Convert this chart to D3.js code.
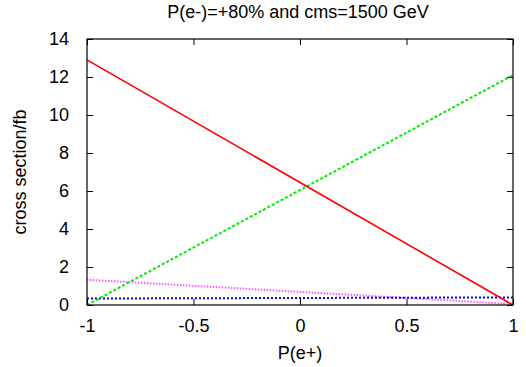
<!DOCTYPE html>
<html>
<head>
<meta charset="utf-8">
<script src="https://cdn.jsdelivr.net/npm/d3@7"></script>
<style>
  body { margin: 0; background: #fff; }
  svg { font-family: "Liberation Sans", Arial, sans-serif; }
</style>
</head>
<body>
<div id="chart"></div>
<script>
// P(e+) values at which each curve is read
const polPositron = [-1, 1];
const redSeries = [12.9, 0.0];
const greenSeries = [0.0, 12.1];
const magentaSeries = [1.33, 0.05];
const blueSeries = [0.34, 0.4];
const xTicks = [-1, -0.5, 0, 0.5, 1];
const yTicks = [0, 2, 4, 6, 8, 10, 12, 14];

const width = 526, height = 367;
const margin = { top: 39, right: 13, bottom: 62, left: 87 };
const fontSize = 18;

const svg = d3.select("#chart")
  .append("svg")
  .attr("width", width)
  .attr("height", height);

const x = d3.scaleLinear().domain([-1, 1]).range([margin.left, width - margin.right]);
const y = d3.scaleLinear().domain([0, 14]).range([height - margin.bottom, margin.top]);

// plain hyphen for negatives, like gnuplot
const fmt = d => String(d);

// bottom axis, ticks pointing inward
svg.append("g")
  .attr("transform", `translate(0,${y(0)})`)
  .call(d3.axisBottom(x).tickValues(xTicks).tickSize(-6).tickPadding(14).tickFormat(fmt))
  .call(g => g.select(".domain").remove());
// top ticks
svg.append("g")
  .attr("transform", `translate(0,${y(14)})`)
  .call(d3.axisTop(x).tickValues(xTicks).tickSize(-6).tickFormat(""))
  .call(g => g.select(".domain").remove());
// left axis
svg.append("g")
  .attr("transform", `translate(${x(-1)},0)`)
  .call(d3.axisLeft(y).tickValues(yTicks).tickSize(-6).tickPadding(18).tickFormat(fmt))
  .call(g => g.select(".domain").remove());
// right ticks
svg.append("g")
  .attr("transform", `translate(${x(1)},0)`)
  .call(d3.axisRight(y).tickValues(yTicks).tickSize(-6).tickFormat(""))
  .call(g => g.select(".domain").remove());

svg.selectAll(".tick text")
  .attr("font-size", fontSize)
  .attr("font-family", "Liberation Sans, Arial, sans-serif")
  .attr("fill", "#000");
svg.selectAll(".tick line").attr("stroke", "#000");

const line = d3.line()
  .x((d, i) => x(polPositron[i]))
  .y(d => y(d));

const series = [
  { data: magentaSeries, color: "#ff55ff", dash: "1.5,1.5", w: 2 },
  { data: blueSeries, color: "#0000ff", dash: "2,2", w: 2 },
  { data: greenSeries, color: "#00ee00", dash: "3,2", w: 2 },
  { data: redSeries, color: "#ff0000", dash: null, w: 1.6 }
];

svg.append("g")
  .selectAll("path")
  .data(series)
  .enter()
  .append("path")
  .attr("d", d => line(d.data))
  .attr("fill", "none")
  .attr("stroke", d => d.color)
  .attr("stroke-width", d => d.w)
  .attr("stroke-dasharray", d => d.dash);

// frame
svg.append("rect")
  .attr("x", x(-1))
  .attr("y", y(14))
  .attr("width", x(1) - x(-1))
  .attr("height", y(0) - y(14))
  .attr("fill", "none")
  .attr("stroke", "#000")
  .attr("stroke-width", 1.2);

svg.append("text")
  .attr("x", 298)
  .attr("y", 18)
  .attr("text-anchor", "middle")
  .attr("font-size", fontSize)
  .text("P(e-)=+80% and cms=1500 GeV");

svg.append("text")
  .attr("x", x(0))
  .attr("y", 359)
  .attr("text-anchor", "middle")
  .attr("font-size", fontSize)
  .text("P(e+)");

svg.append("text")
  .attr("transform", `translate(26,${(y(0) + y(14)) / 2}) rotate(-90)`)
  .attr("text-anchor", "middle")
  .attr("font-size", fontSize)
  .text("cross section/fb");
</script>
</body>
</html>
